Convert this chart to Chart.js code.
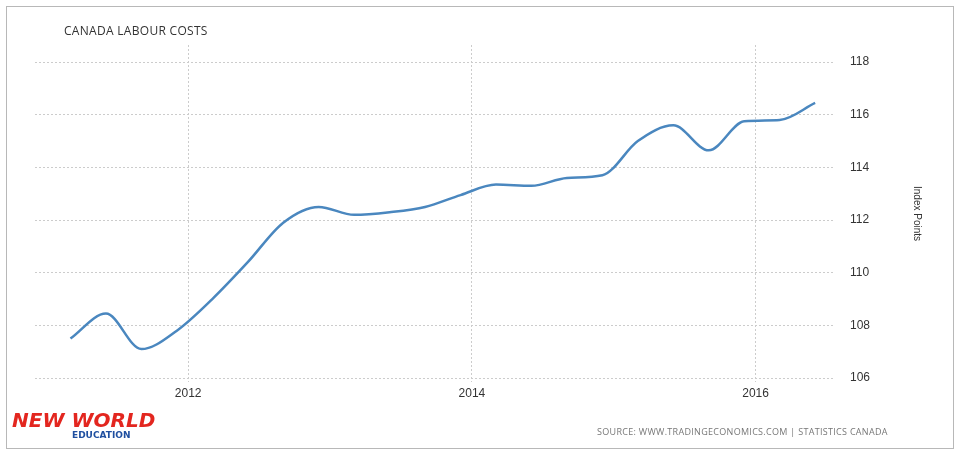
<!DOCTYPE html>
<html><head><meta charset="utf-8">
<script src="https://cdn.jsdelivr.net/npm/chart.js@4/dist/chart.umd.min.js"></script>
<style>
body{margin:0;background:#fff;font-family:"Open Sans",Arial,sans-serif;}
#wrap{position:relative;width:960px;height:455px;}
#frame{position:absolute;left:6px;top:6px;width:946px;height:441px;border:1px solid #b8b8b8;}
#title{position:absolute;left:64px;top:22px;font-size:12px;color:#333;letter-spacing:0.3px}
#src{position:absolute;left:597px;top:425px;font-size:9px;color:#777;letter-spacing:0.3px}
#logo{position:absolute;left:12px;top:410px;font:900 italic 20px "DejaVu Sans",sans-serif;color:#e3261f;line-height:20px}
#logo span{display:block;font-size:9px;color:#1f4fa0;margin-left:60px;line-height:10px;font-style:normal}
canvas{position:absolute;left:0;top:0}
</style></head><body>
<div id="wrap"><div id="frame"></div><canvas id="c" width="960" height="455"></canvas>
<div id="title">CANADA LABOUR COSTS</div>
<div id="src">SOURCE: WWW.TRADINGECONOMICS.COM | STATISTICS CANADA</div>
<div id="logo">NEW WORLD<span>EDUCATION</span></div></div>
<script>
const periods=[2011.17,2011.42,2011.67,2011.92,2012.17,2012.42,2012.67,2012.92,2013.17,2013.42,2013.67,2013.92,2014.17,2014.42,2014.67,2014.92,2015.17,2015.42,2015.67,2015.92,2016.17,2016.42];
const values=[107.5,108.45,107.1,107.8,109.0,110.4,111.9,112.5,112.2,112.3,112.5,112.95,113.35,113.3,113.6,113.7,115.0,115.6,114.65,115.75,115.8,116.45];
const xTicks=[2012,2014,2016];
const yTicks=[106,108,110,112,114,116,118];
new Chart(document.getElementById('c'),{type:'line',
data:{datasets:[{data:periods.map((p,i)=>({x:p,y:values[i]})),borderColor:'#4a87bf',borderWidth:2.5,pointRadius:0,tension:0.4,cubicInterpolationMode:'monotone'}]},
options:{responsive:false,animation:false,layout:{padding:{left:35,right:33,top:45,bottom:0}},
plugins:{legend:{display:false},tooltip:{enabled:false}},
scales:{
x:{type:'linear',min:2010.92,max:2016.56,afterBuildTicks:a=>{a.ticks=xTicks.map(v=>({value:v}))},
grid:{color:'#ccc',drawTicks:false},border:{display:false,dash:[2,2]},
ticks:{color:'#333',font:{size:12},padding:4,callback:v=>String(v)},afterFit:s=>{s.height=73}},
y:{position:'right',min:105.85,max:118.65,afterBuildTicks:a=>{a.ticks=yTicks.map(v=>({value:v}))},
grid:{color:'#ccc',drawTicks:false},border:{display:false,dash:[2,2]},
ticks:{color:'#333',font:{size:12},padding:15},
title:{display:true,text:'Index Points',color:'#333',font:{size:10},padding:{top:4,bottom:4}},afterFit:s=>{s.width=92}}}}});
</script></body></html>
